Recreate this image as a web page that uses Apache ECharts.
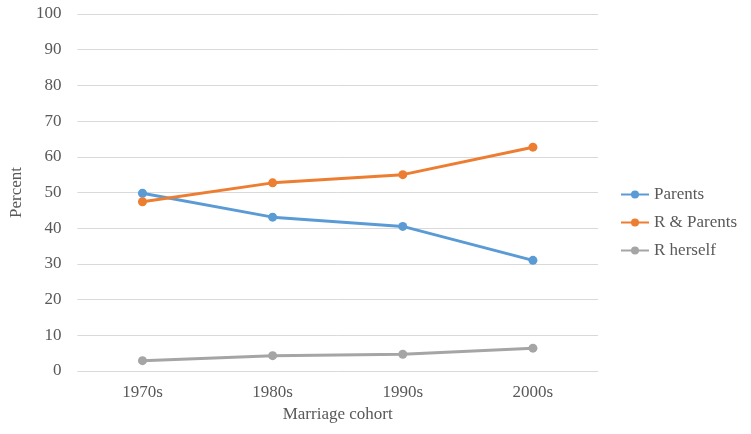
<!DOCTYPE html>
<html><head><meta charset="utf-8">
<script src="https://cdn.jsdelivr.net/npm/echarts@6/dist/echarts.min.js"></script>
<style>html,body{margin:0;padding:0;background:#fff}#c{width:751px;height:434px}</style>
</head><body><div id="c"></div>
<script>
var categories = ['1970s', '1980s', '1990s', '2000s'];
var parents = [49.8, 43.1, 40.5, 31.0];
var rAndParents = [47.4, 52.7, 55.0, 62.7];
var rHerself = [2.9, 4.3, 4.7, 6.4];
var yTicks = {min: 0, max: 100, interval: 10};

var font = '"Liberation Serif", "Times New Roman", serif';
var chart = echarts.init(document.getElementById('c'));
function ser(name, data, color) {
  return {
    name: name, type: 'line', data: data,
    symbol: 'circle', symbolSize: 9,
    lineStyle: {color: color, width: 3},
    itemStyle: {color: color},
    emphasis: {disabled: true}
  };
}
chart.setOption({
  animation: false,
  textStyle: {fontFamily: font},
  grid: {left: 76, right: 153, top: 14, bottom: 63, containLabel: false},
  xAxis: {
    type: 'category', data: categories, boundaryGap: true,
    axisLine: {show: false}, axisTick: {show: false},
    axisLabel: {color: '#595959', fontSize: 17, fontFamily: font, margin: 13},
    name: 'Marriage cohort', nameLocation: 'middle', nameGap: 35,
    nameTextStyle: {color: '#595959', fontSize: 17, fontFamily: font}
  },
  yAxis: {
    type: 'value', min: yTicks.min, max: yTicks.max, interval: yTicks.interval,
    axisLine: {show: false}, axisTick: {show: false},
    splitLine: {lineStyle: {color: '#d9d9d9', width: 1}},
    axisLabel: {color: '#595959', fontSize: 17, fontFamily: font, margin: 16},
    name: 'Percent', nameLocation: 'middle', nameGap: 46, nameRotate: 90,
    nameTextStyle: {color: '#595959', fontSize: 17, fontFamily: font}
  },
  legend: {
    orient: 'vertical', left: 620, top: 186, itemGap: 11, padding: 0,
    itemWidth: 28, itemHeight: 10,
    textStyle: {color: '#595959', fontSize: 17, fontFamily: font},
    data: ['Parents', 'R & Parents', 'R herself']
  },
  series: [
    ser('Parents', parents, '#5B9BD5'),
    ser('R & Parents', rAndParents, '#ED7D31'),
    ser('R herself', rHerself, '#A5A5A5')
  ]
});
</script></body></html>
